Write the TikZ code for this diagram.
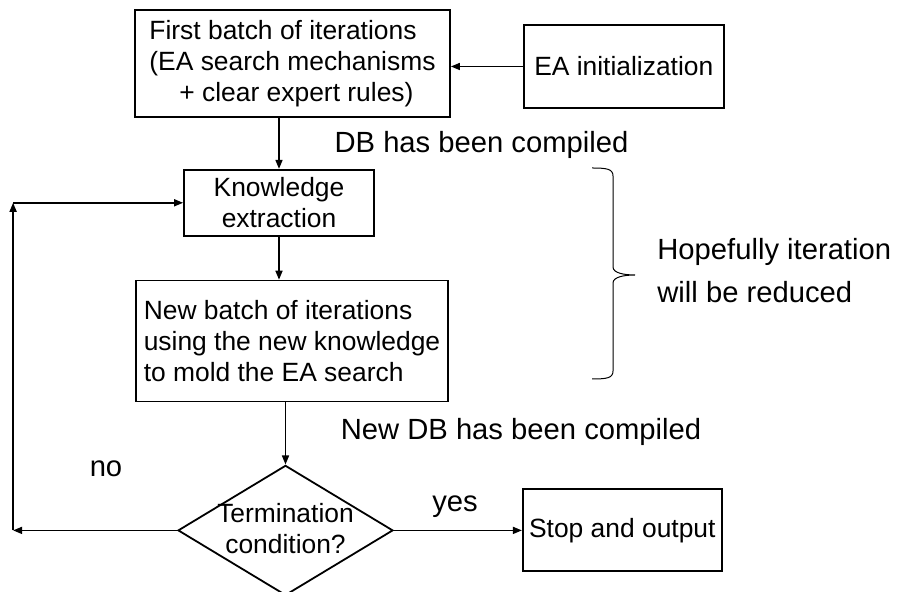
\documentclass[tikz,border=0pt]{standalone}
\usepackage{fontspec}
\setmainfont{Liberation Sans}
\usetikzlibrary{shapes.geometric, arrows.meta, positioning}

\begin{document}
\begin{tikzpicture}[
  x=0.5pt, y=-0.5pt,
  boxfont/.style={font=\fontsize{13.2}{15.5}\selectfont},
  box/.style={rectangle, draw, line width=0.9pt, inner sep=3pt, boxfont},
  decision/.style={diamond, draw, line width=0.9pt, inner sep=0pt,
                   minimum width=107.5pt, minimum height=65pt},
  arrow/.style={-{Triangle[length=4.5pt,width=3.5pt]}, line width=0.8pt},
  note/.style={font=\fontsize{14.6}{21.5}\selectfont, inner sep=0pt}
]
\useasboundingbox (0,0) rectangle (900,592);

% Columna principal
\node[box, align=left, minimum width=157.5pt, minimum height=53.5pt] (first) at (292.5,63.5)
  {First batch of iterations\\(EA search mechanisms\\\hspace*{15pt}+ clear expert rules)};
\node[box, minimum width=100pt, minimum height=41.5pt, right=36pt of first, yshift=-1.5pt] (init) {EA initialization};
\node[box, align=center, minimum width=95pt, minimum height=33pt, below=25.5pt of first, xshift=-6.75pt] (know) {Knowledge\\extraction};
\node[box, align=left, minimum width=156pt, minimum height=60.5pt, below=21.5pt of know, xshift=6.5pt] (newbatch)
  {New batch of iterations\\using the new knowledge\\to mold the EA search};
\node[decision, below=31pt of newbatch, xshift=-3.25pt,
      label={[boxfont, align=center, yshift=0.75pt]center:Termination\\condition?}] (cond) {};
\node[box, minimum width=99.5pt, minimum height=41pt, right=64pt of cond] (stop) {Stop and output};

% Vuelta (no)
\coordinate[left=82pt of cond.west] (nobot);
\coordinate (notop) at (nobot |- know.west);

% Flechas
\draw[arrow] (init.west) -- (init.west -| first.east);
\draw[arrow] (first.south -| know.north) -- (know.north);
\draw[arrow] (know.south) -- (know.south |- newbatch.north);
\draw[arrow] (newbatch.south -| cond.north) -- (cond.north);
\draw[arrow] (cond.east) -- (cond.east -| stop.west);
\draw[arrow] (cond.west) -- (nobot);
\draw[arrow] (nobot) -- (notop);
\draw[arrow] (notop) -- (know.west);

% Textos
\node[note, anchor=base] (dbone) at (481.5,153) {DB has been compiled};
\node[note, anchor=base] (dbtwo) at (521,440) {New DB has been compiled};
\node[note, anchor=base] (no) at (106,477) {no};
\node[note, anchor=base] (yes) at (455,512) {yes};
\node[note, anchor=base west, align=left] (hope) at (657,303) {Hopefully iteration\\will be reduced};

% Llave
\draw[line width=0.5pt] (592,168) .. controls (607,168) and (613,169) .. (613,176)
  -- (613,267) .. controls (613,273) and (624,275) .. (635,275)
  .. controls (624,275) and (613,277) .. (613,283)
  -- (613,371) .. controls (613,378) and (607,379) .. (592,379);

\end{tikzpicture}
\end{document}
